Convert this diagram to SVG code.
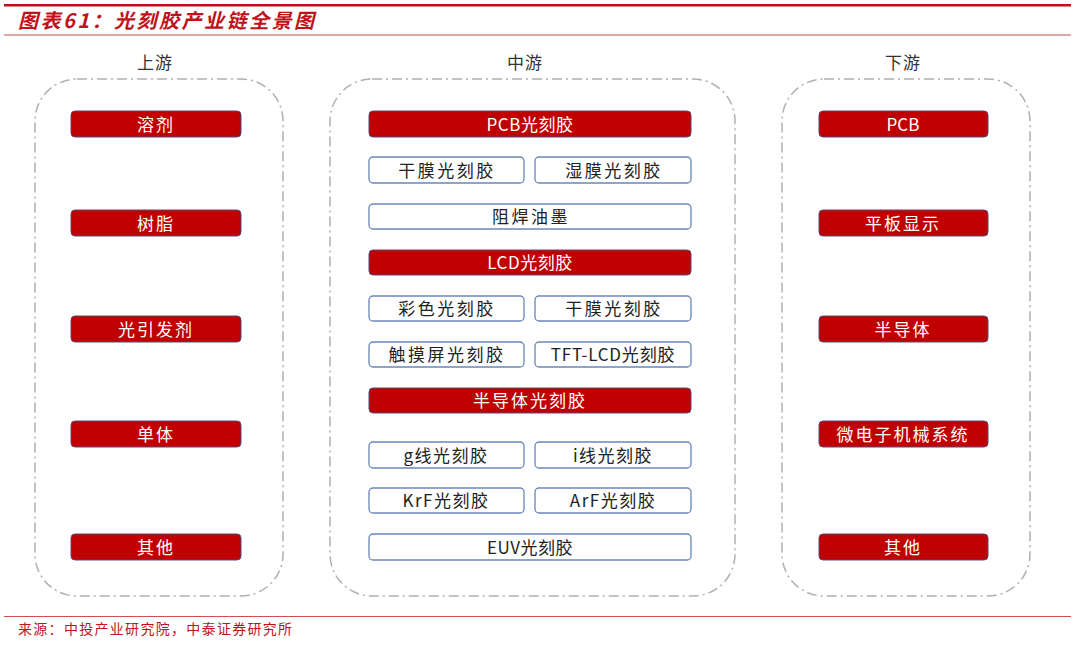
<svg xmlns="http://www.w3.org/2000/svg" width="1080" height="646" viewBox="0 0 1080 646">
<style>
text{font-family:"Noto Sans CJK SC","Noto Sans",sans-serif;text-anchor:middle;dominant-baseline:central}
.cont{fill:none;stroke:#b0b0b0;stroke-width:1.5;stroke-dasharray:10 4 2 4}
.red{fill:#c00000;stroke:#5a4a7a;stroke-width:1}
.wht{fill:#fff;stroke:#6a86b8;stroke-width:1.3}
.rt{fill:#fff;font-size:17px;letter-spacing:2px}
.wt{fill:#222;font-size:17px;letter-spacing:2.5px}
.hd{fill:#333;font-size:17px;letter-spacing:1px}
</style>
<rect width="1080" height="646" fill="#fff"/>
<g id="header">
<rect x="4" y="4" width="1067" height="2.5" fill="#b5141b"/>
<text x="18" y="19.5" style="text-anchor:start;font-size:20px;font-weight:bold;font-style:italic;fill:#c0121a;letter-spacing:2.5px">图表61：光刻胶产业链全景图</text>
<rect x="4" y="34.5" width="1067" height="1" fill="#c0504d"/>
</g>
<g id="upstream">
<text class="hd" x="155" y="61">上游</text>
<rect class="cont" x="35" y="79" width="248" height="517" rx="42"/>
</g>
<g id="midstream">
<text class="hd" x="525" y="61">中游</text>
<rect class="cont" x="330" y="79" width="405" height="517" rx="42"/>
</g>
<g id="downstream">
<text class="hd" x="903" y="61">下游</text>
<rect class="cont" x="782" y="79" width="248" height="517" rx="42"/>
</g>
<g id="connectors"/>
<g id="u1"><rect class="red" x="71" y="111" width="170" height="26" rx="4"/><text class="rt" x="156" y="123">溶剂</text></g>
<g id="u2"><rect class="red" x="71" y="210" width="170" height="26" rx="4"/><text class="rt" x="156" y="222">树脂</text></g>
<g id="u3"><rect class="red" x="71" y="316" width="170" height="26" rx="4"/><text class="rt" x="156" y="328">光引发剂</text></g>
<g id="u4"><rect class="red" x="71" y="421" width="170" height="26" rx="4"/><text class="rt" x="156" y="433">单体</text></g>
<g id="u5"><rect class="red" x="71" y="534" width="170" height="26" rx="4"/><text class="rt" x="156" y="546">其他</text></g>
<g id="d1"><rect class="red" x="819" y="111" width="169" height="26" rx="4"/><text class="rt" x="903" y="123" style="letter-spacing:0">PCB</text></g>
<g id="d2"><rect class="red" x="819" y="210" width="169" height="26" rx="4"/><text class="rt" x="903" y="222">平板显示</text></g>
<g id="d3"><rect class="red" x="819" y="316" width="169" height="26" rx="4"/><text class="rt" x="903" y="328">半导体</text></g>
<g id="d4"><rect class="red" x="819" y="421" width="169" height="26" rx="4"/><text class="rt" x="903" y="433">微电子机械系统</text></g>
<g id="d5"><rect class="red" x="819" y="534" width="169" height="26" rx="4"/><text class="rt" x="903" y="546">其他</text></g>
<g id="m1"><rect class="red" x="369" y="111" width="322" height="26" rx="4"/><text class="rt" x="530" y="123" style="letter-spacing:0.5px">PCB光刻胶</text></g>
<g id="m2"><rect class="wht" x="369" y="157" width="155" height="26" rx="4"/><text class="wt" x="447" y="169">干膜光刻胶</text></g>
<g id="m3"><rect class="wht" x="535" y="157" width="156" height="26" rx="4"/><text class="wt" x="614" y="169">湿膜光刻胶</text></g>
<g id="m4"><rect class="wht" x="369" y="204" width="322" height="25" rx="4"/><text class="wt" x="531" y="215.5">阻焊油墨</text></g>
<g id="m5"><rect class="red" x="369" y="250" width="322" height="25" rx="4"/><text class="rt" x="530" y="261.5" style="letter-spacing:0.5px">LCD光刻胶</text></g>
<g id="m6"><rect class="wht" x="369" y="296" width="155" height="25" rx="4"/><text class="wt" x="447" y="307.5">彩色光刻胶</text></g>
<g id="m7"><rect class="wht" x="535" y="296" width="156" height="25" rx="4"/><text class="wt" x="614" y="307.5">干膜光刻胶</text></g>
<g id="m8"><rect class="wht" x="369" y="342" width="155" height="25" rx="4"/><text class="wt" x="447" y="353.5">触摸屏光刻胶</text></g>
<g id="m9"><rect class="wht" x="535" y="342" width="156" height="25" rx="4"/><text class="wt" x="613" y="353.5" style="letter-spacing:0.8px">TFT-LCD光刻胶</text></g>
<g id="m10"><rect class="red" x="369" y="388" width="322" height="25" rx="4"/><text class="rt" x="530" y="399.5">半导体光刻胶</text></g>
<g id="m11"><rect class="wht" x="369" y="442" width="155" height="26" rx="4"/><text class="wt" x="446" y="454" style="letter-spacing:1.5px">g线光刻胶</text></g>
<g id="m12"><rect class="wht" x="535" y="442" width="156" height="26" rx="4"/><text class="wt" x="613" y="454" style="letter-spacing:1.5px">i线光刻胶</text></g>
<g id="m13"><rect class="wht" x="369" y="488" width="155" height="25" rx="4"/><text class="wt" x="446" y="499.5" style="letter-spacing:1.5px">KrF光刻胶</text></g>
<g id="m14"><rect class="wht" x="535" y="488" width="156" height="25" rx="4"/><text class="wt" x="613" y="499.5" style="letter-spacing:1.5px">ArF光刻胶</text></g>
<g id="m15"><rect class="wht" x="369" y="534" width="322" height="26" rx="4"/><text class="wt" x="530" y="546" style="letter-spacing:0.5px">EUV光刻胶</text></g>
<g id="footer">
<rect x="4" y="616" width="1067" height="1" fill="#d05050"/>
<text x="18" y="627.5" style="text-anchor:start;font-size:14px;fill:#c0121a;letter-spacing:1.3px">来源：中投产业研究院，中泰证券研究所</text>
</g>
</svg>
